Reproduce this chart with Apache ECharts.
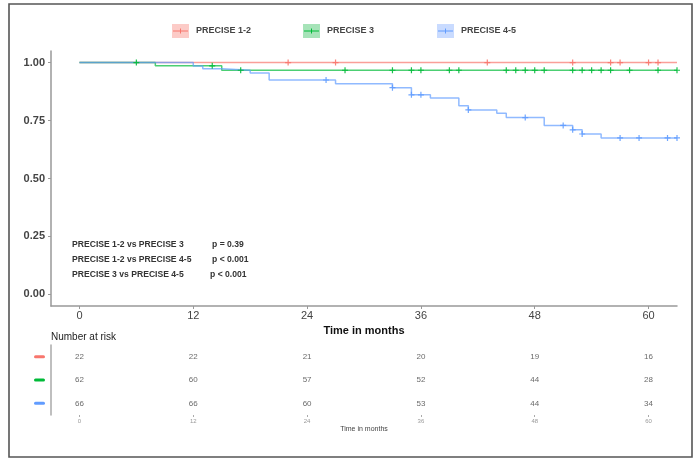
<!DOCTYPE html>
<html>
<head>
<meta charset="utf-8">
<script src="https://cdn.jsdelivr.net/npm/echarts@6/dist/echarts.min.js"></script>
<style>html,body{margin:0;padding:0;background:#fff;}#c{width:700px;height:464px;}</style>
</head>
<body>
<div id="c"></div>
<script>
// ---- Data ----
const groupNames = ['PRECISE 1-2', 'PRECISE 3', 'PRECISE 4-5'];
const groupColors = ['#F8766D', '#00BA38', '#619CFF'];
const groupLight = ['#FCCBC7', '#A6E3B8', '#C9DBFF'];
const timeTicks = [0, 12, 24, 36, 48, 60];
const survTicks = [0, 0.25, 0.5, 0.75, 1.0];

// Kaplan-Meier step points [time, survival]
const kmRed = [[0, 1], [63, 1]];
const kmGreen = [[0, 1], [8, 0.986], [15, 0.967], [63, 0.967]];
const kmBlue = [[0, 1], [12, 0.985], [13, 0.973], [15, 0.967], [18, 0.955], [20, 0.925], [27, 0.909],
  [33, 0.892], [35, 0.861], [37, 0.847], [40, 0.814], [41, 0.796], [44, 0.782], [45, 0.763],
  [49, 0.729], [52, 0.710], [53, 0.692], [55, 0.675], [63, 0.675]];

// Censoring marks [time, survival]
const censRed = [[22, 1], [27, 1], [43, 1], [52, 1], [56, 1], [57, 1], [60, 1], [61, 1]];
const censGreen = [[6, 1], [14, 0.986], [17, 0.967], [28, 0.967], [33, 0.967], [35, 0.967], [36, 0.967],
  [39, 0.967], [40, 0.967], [45, 0.967], [46, 0.967], [47, 0.967], [48, 0.967], [49, 0.967],
  [52, 0.967], [53, 0.967], [54, 0.967], [55, 0.967], [56, 0.967], [58, 0.967], [61, 0.967], [63, 0.967]];
const censBlue = [[26, 0.925], [33, 0.892], [35, 0.861], [36, 0.861], [41, 0.796], [47, 0.763],
  [51, 0.729], [52, 0.710], [53, 0.692], [57, 0.675], [59, 0.675], [62, 0.675], [63, 0.675]];

// Number at risk
const riskTimes = [0, 12, 24, 36, 48, 60];
const riskRed = [22, 22, 21, 20, 19, 16];
const riskGreen = [62, 60, 57, 52, 44, 28];
const riskBlue = [66, 66, 60, 53, 44, 34];
const riskRows = ['blue', 'green', 'red'];

// p-value annotations
const pLabels = ['PRECISE 1-2 vs PRECISE 3', 'PRECISE 1-2 vs PRECISE 4-5', 'PRECISE 3 vs PRECISE 4-5'];
const pValues = ['p = 0.39', 'p < 0.001', 'p < 0.001'];

// ---- Chart ----
const chart = echarts.init(document.getElementById('c'), null, {renderer: 'canvas'});
const FONT = 'Liberation Sans';
const plus = 'path://M4,0h2v4h4v2h-4v4h-2v-4h-4v-2h4z';

const kms = [kmRed, kmGreen, kmBlue];
const cens = [censRed, censGreen, censBlue];
const series = [];
kms.forEach((d, i) => {
  series.push({
    name: groupNames[i], type: 'line', step: 'end', data: d, showSymbol: false,
    xAxisIndex: 0, yAxisIndex: 0, silent: true,
    lineStyle: {color: groupColors[i], width: 1.5, opacity: 0.7},
    itemStyle: {color: groupColors[i]}, z: 2 + i
  });
});
cens.forEach((d, i) => {
  series.push({
    name: groupNames[i] + ' censor', type: 'scatter', data: d, symbol: plus, symbolSize: 6,
    xAxisIndex: 0, yAxisIndex: 0, silent: true,
    itemStyle: {color: groupColors[i], opacity: 0.9}, z: 5 + i
  });
});
const risks = {red: riskRed, green: riskGreen, blue: riskBlue};
riskRows.forEach(r => {
  series.push({
    type: 'scatter', xAxisIndex: 1, yAxisIndex: 1, silent: true,
    data: riskTimes.map((t, k) => [t, r, risks[r][k]]),
    symbolSize: 1, itemStyle: {color: 'rgba(0,0,0,0)'},
    label: {show: true, position: 'inside', formatter: p => p.value[2], fontSize: 8, color: '#444', fontFamily: FONT}
  });
});

const graphic = [
  {type: 'rect', shape: {x: 9, y: 4, width: 683, height: 453}, style: {fill: 'none', stroke: '#555', lineWidth: 1.6}, silent: true}
];
const legendLeft = [172, 303, 437];
legendLeft.forEach((x, i) => {
  graphic.push({type: 'line', shape: {x1: x + 1, y1: 31, x2: x + 16, y2: 31}, style: {stroke: groupColors[i], lineWidth: 1}, silent: true, z: 100});
  graphic.push({type: 'line', shape: {x1: x + 8.5, y1: 28.5, x2: x + 8.5, y2: 33.5}, style: {stroke: groupColors[i], lineWidth: 1}, silent: true, z: 100});
});
const pY = [245, 260, 275];
const pX = [212, 212, 210];
pLabels.forEach((t, i) => {
  graphic.push({type: 'text', x: 72, y: pY[i], style: {text: t, font: 'bold 8.6px ' + FONT, fill: '#333', verticalAlign: 'middle'}, silent: true});
  graphic.push({type: 'text', x: pX[i], y: pY[i], style: {text: pValues[i], font: 'bold 8.6px ' + FONT, fill: '#333', verticalAlign: 'middle'}, silent: true});
});
graphic.push({type: 'text', x: 51, y: 337, style: {text: 'Number at risk', font: '10px ' + FONT, fill: '#222', verticalAlign: 'middle'}, silent: true});

const legends = groupNames.map((n, i) => ({
  left: legendLeft[i], top: 24, padding: 0, itemWidth: 17, itemHeight: 14, icon: 'rect', selectedMode: false,
  data: [{name: n, itemStyle: {color: groupLight[i]}}],
  textStyle: {fontSize: 9, fontWeight: 'bold', color: '#444', fontFamily: FONT, padding: [0, 0, 0, 2]}
}));

chart.setOption({
  animation: false,
  backgroundColor: '#fff',
  textStyle: {fontFamily: FONT},
  legend: legends,
  graphic: graphic,
  grid: [
    {left: 51, right: 23, top: 51, bottom: 158},
    {left: 51, right: 23, top: 345, bottom: 49}
  ],
  xAxis: [
    {
      type: 'value', gridIndex: 0, min: -3, max: 63,
      name: 'Time in months', nameLocation: 'middle', nameGap: 12,
      nameTextStyle: {fontSize: 11, fontWeight: 'bold', color: '#111'},
      axisLine: {onZero: false, lineStyle: {color: '#999', width: 1.5}},
      axisTick: {show: true, length: 3, lineStyle: {color: '#999'}, customValues: timeTicks},
      axisLabel: {fontSize: 11, color: '#444', margin: 4, customValues: timeTicks},
      splitLine: {show: false}
    },
    {
      type: 'value', gridIndex: 1, min: -3, max: 63,
      name: 'Time in months', nameLocation: 'middle', nameGap: 11,
      nameTextStyle: {fontSize: 7, color: '#444'},
      axisLine: {onZero: false, lineStyle: {color: '#aaa', width: 1.5}},
      axisTick: {show: true, length: 2, lineStyle: {color: '#aaa'}, customValues: timeTicks},
      axisLabel: {fontSize: 6, color: '#999', margin: 3, customValues: timeTicks},
      splitLine: {show: false}
    }
  ],
  yAxis: [
    {
      type: 'value', gridIndex: 0, min: -0.05, max: 1.05,
      axisLine: {show: true, onZero: false, lineStyle: {color: '#999', width: 1.5}},
      axisTick: {show: true, length: 3, lineStyle: {color: '#999'}, customValues: survTicks},
      axisLabel: {fontSize: 11, fontWeight: 'bold', color: '#444', margin: 6, customValues: survTicks,
        formatter: v => v.toFixed(2)},
      splitLine: {show: false}
    },
    {
      type: 'category', gridIndex: 1, data: riskRows,
      axisLine: {show: true, onZero: false, lineStyle: {color: '#aaa', width: 1.5}},
      axisTick: {show: false},
      axisLabel: {margin: 6, formatter: v => '{' + v + '|}',
        rich: {
          red: {width: 11, height: 3, backgroundColor: groupColors[0], borderRadius: 1.5},
          green: {width: 11, height: 3, backgroundColor: groupColors[1], borderRadius: 1.5},
          blue: {width: 11, height: 3, backgroundColor: groupColors[2], borderRadius: 1.5}
        }},
      splitLine: {show: false}
    }
  ],
  series: series
});
</script>
</body>
</html>
